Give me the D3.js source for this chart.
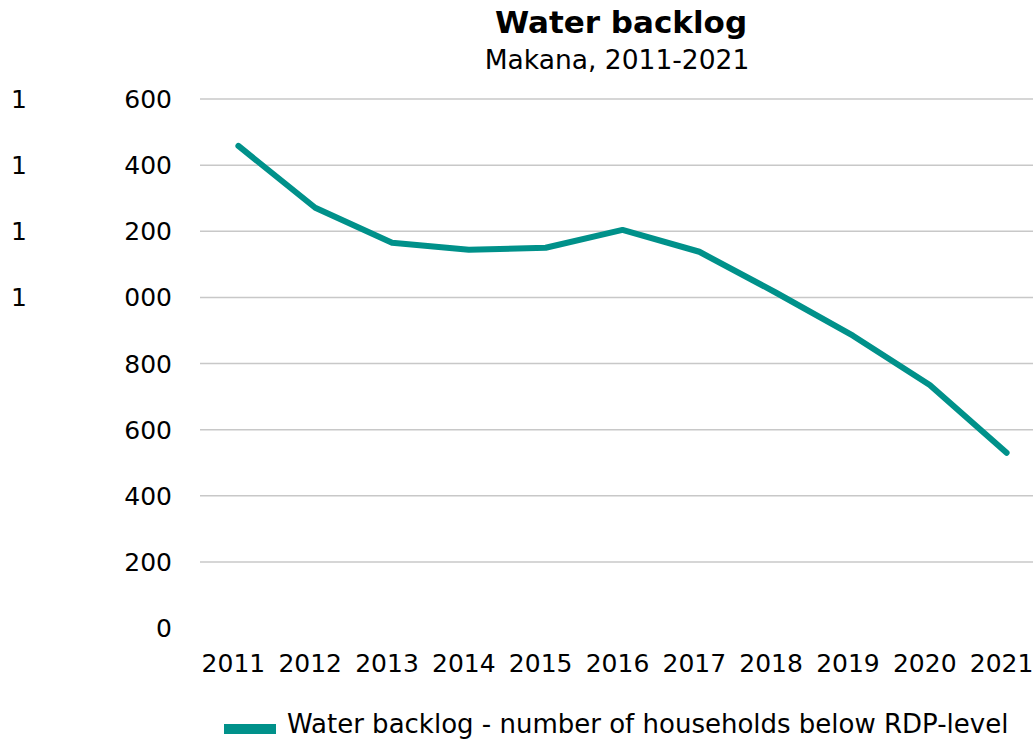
<!DOCTYPE html>
<html>
<head>
<meta charset="utf-8">
<title>Water backlog</title>
<script src="https://cdn.jsdelivr.net/npm/d3@7"></script>
<style>
  body { margin: 0; background: #fff; }
  text { font-family: "DejaVu Sans", Verdana, sans-serif; fill: #000; }
  .grid line { stroke: #c8c8c8; stroke-width: 1.5px; }
</style>
</head>
<body>
<svg id="chart"></svg>
<script>
// data
var years = ["2011", "2012", "2013", "2014", "2015", "2016", "2017", "2018", "2019", "2020", "2021"];
var backlog = [1458, 1271, 1165, 1144, 1150, 1204, 1138, 1014, 884, 735, 530];
var yTicks = [0, 200, 400, 600, 800, 1000, 1200, 1400, 1600];

var title = "Water backlog";
var subtitle = "Makana, 2011-2021";
var seriesName = "Water backlog - number of households below RDP-level";

var W = 1033, H = 740;
var svg = d3.select("#chart").attr("width", W).attr("height", H);

var x = d3.scaleBand().domain(years).range([200, 1045]);
var y = d3.scaleLinear().domain([0, 1600]).range([628, 99]);

// gridlines (no line at zero)
svg.append("g").attr("class", "grid")
  .selectAll("line")
  .data(yTicks.filter(function (d) { return d > 0; }))
  .enter().append("line")
  .attr("x1", 200).attr("x2", W)
  .attr("y1", function (d) { return y(d); })
  .attr("y2", function (d) { return y(d); });

// y labels - thousands part sits far left, like the reference
var yl = svg.append("g");
yTicks.forEach(function (d) {
  var th = Math.floor(d / 1000), rest = d % 1000;
  var restStr = th > 0 ? d3.format("03d")(rest) : String(rest);
  yl.append("text")
    .attr("x", 172).attr("y", y(d)).attr("dy", "0.36em")
    .attr("text-anchor", "end").attr("font-size", 25)
    .text(restStr);
  if (th > 0) {
    yl.append("text")
      .attr("x", 11).attr("y", y(d)).attr("dy", "0.36em")
      .attr("font-size", 25)
      .text(th);
  }
});

// x labels
svg.append("g").selectAll("text")
  .data(years).enter().append("text")
  .attr("x", function (d) { return x(d) + x.bandwidth() / 2 - 5; })
  .attr("y", 672)
  .attr("text-anchor", "middle").attr("font-size", 25)
  .text(function (d) { return d; });

// line
var line = d3.line()
  .x(function (d, i) { return x(years[i]) + x.bandwidth() / 2; })
  .y(function (d) { return y(d); });

svg.append("path")
  .datum(backlog)
  .attr("d", line)
  .attr("fill", "none")
  .attr("stroke", "#00918a")
  .attr("stroke-width", 6)
  .attr("stroke-linecap", "round")
  .attr("stroke-linejoin", "round");

// titles
svg.append("text").attr("x", 621).attr("y", 33)
  .attr("text-anchor", "middle").attr("font-size", 31).attr("font-weight", "bold")
  .text(title);
svg.append("text").attr("x", 617).attr("y", 69)
  .attr("text-anchor", "middle").attr("font-size", 26.5)
  .text(subtitle);

// legend
svg.append("rect").attr("x", 224).attr("y", 724).attr("width", 52).attr("height", 10)
  .attr("fill", "#00918a");
svg.append("text").attr("x", 287).attr("y", 733).attr("font-size", 26)
  .text(seriesName);
</script>
</body>
</html>
